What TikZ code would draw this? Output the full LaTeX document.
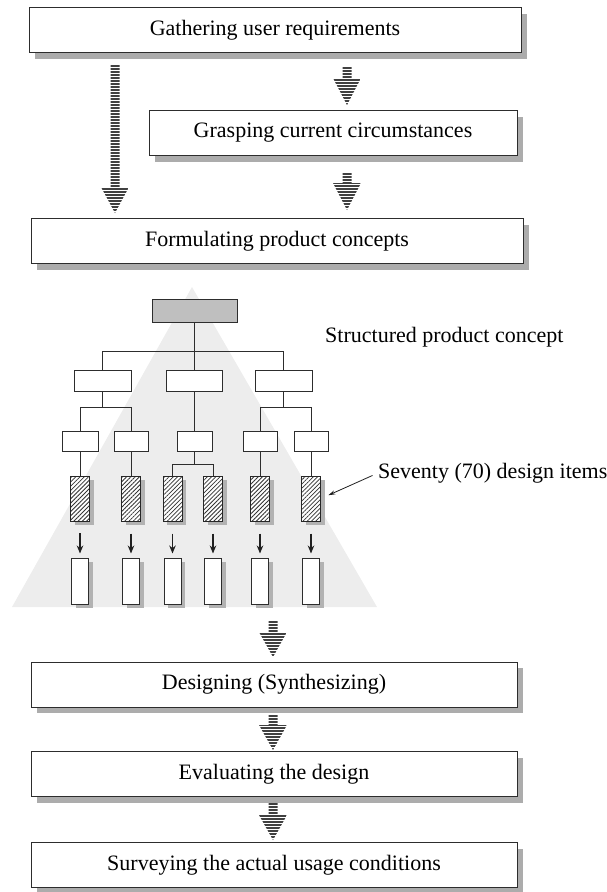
\documentclass[tikz,border=0pt]{standalone}
\usepackage{fontspec}
\setmainfont{Liberation Serif}
\usetikzlibrary{calc,shadows,patterns.meta,arrows.meta}

% striped block arrow: #2 top, #3 tip, #1 head length
\newcommand{\bararrow}[3][26]{%
  \path[bars] let \p1=(#2), \p2=(#3) in
    (\x1-4.5pt,\y1) -- (\x1+4.5pt,\y1) -- (\x1+4.5pt,\y2+#1pt) -- (\x1+14pt,\y2+#1pt)
    -- (\x1,\y2) -- (\x1-14pt,\y2+#1pt) -- (\x1-4.5pt,\y2+#1pt) -- cycle;}

\tikzset{
  stage/.style={draw=gray!35!black, line width=1pt, fill=white, minimum height=45pt,
    inner sep=0pt, general shadow={fill=gray!65, shadow xshift=6pt, shadow yshift=-6pt},
    font=\fontsize{22}{26}\selectfont},
  bars/.style={path picture={
    \foreach \k in {0.9,3.9,...,160}
      \draw[gray!50!black, line width=1.7pt]
        ([yshift=-\k pt]path picture bounding box.north west) --
        ([yshift=-\k pt]path picture bounding box.north east);}},
  tline/.style={draw=gray!35!black, line width=1pt},
  cbox/.style={draw=gray!35!black, line width=1pt, fill=white, inner sep=0pt},
  rootbox/.style={cbox, preaction={fill=gray!40},
    pattern={Dots[distance=2pt,radius=0.45pt]}, pattern color=gray!40!black},
  hbox/.style={draw=gray!30!black, line width=1pt, inner sep=0pt, minimum width=19pt,
    minimum height=45pt, general shadow={fill=gray!60, shadow xshift=4pt, shadow yshift=-4pt},
    preaction={fill=white}, pattern={Lines[angle=45,distance=3pt,line width=0.8pt]},
    pattern color=gray!40!black},
  wbox/.style={cbox, minimum width=17pt, minimum height=46pt,
    general shadow={fill=gray!60, shadow xshift=4pt, shadow yshift=-4pt}},
  down/.style={draw=gray!25!black, line width=1.3pt, -{Stealth[length=8pt,width=6.5pt]}},
  note/.style={font=\fontsize{22}{26}\selectfont, inner sep=0pt}
}

\begin{document}
\begin{tikzpicture}[x=1pt,y=-1pt]
  \useasboundingbox (0,0) rectangle (606,892);
  % top stages
  \node[stage, minimum width=492pt] (gather) at (275,30) {Gathering user requirements};
  \node[stage, minimum width=368pt] (grasp) at (333,133) {Grasping current circumstances};
  \node[stage, minimum width=492pt] (formulate) at (277,241) {Formulating product concepts};
  \coordinate (l1) at (115,65);   \coordinate (l1tip) at (115,213);
  \coordinate (g1) at (347,67);   \coordinate (g1tip) at (347,105);
  \coordinate (g2) at (347,173);  \coordinate (g2tip) at (347,210);
  \bararrow{l1}{l1tip}
  \bararrow[27]{g1}{g1tip}
  \bararrow[27]{g2}{g2tip}

  % structured concept
  \fill[gray!14] (192,287) -- (377,607) -- (12,607) -- cycle;
  \node[rootbox, minimum width=85pt, minimum height=23pt] (root) at (194.5,310.5) {};
  \foreach \n/\x/\w in {ca/102.5/57, cb/194.5/56, cc/283.5/57}
    \node[cbox, minimum width=\w pt, minimum height=21pt] (\n) at (\x,380.5) {};
  \foreach \n/\x/\w in {da/80/36, db/131/34, dc/194.5/35, dd/260/34, de/311/34}
    \node[cbox, minimum width=\w pt, minimum height=20pt] (\n) at (\x,441) {};
  \foreach \n/\x in {ha/80, hb/131, hc/172.5, hd/213, he/260, hf/311}
    \node[hbox] (\n) at (\x,498.5) {};
  \foreach \n/\x in {ba/80, bb/131, bc/172.5, bd/213, be/260, bf/311}
    \node[wbox] (\n) at (\x,581) {};
  \draw[tline] (root.south) -- ++(0,29) -| (ca.north);
  \draw[tline] (root.south) -- ++(0,29) -| (cc.north);
  \draw[tline] (root.south) -- (cb.north);
  \draw[tline] (ca.south) -- ++(0,16) -| (da.north);
  \draw[tline] (ca.south) -- ++(0,16) -| (db.north);
  \draw[tline] (cb.south) -- (dc.north);
  \draw[tline] (cc.south) -- ++(0,16) -| (dd.north);
  \draw[tline] (cc.south) -- ++(0,16) -| (de.north);
  \draw[tline] (dc.south) -- ++(0,13) -| (hc.north);
  \draw[tline] (dc.south) -- ++(0,13) -| (hd.north);
  \foreach \a/\b in {da/ha, db/hb, dd/he, de/hf}
    \draw[tline] (\a.south) -- (\b.north);
  \foreach \a/\b in {ha/ba, hb/bb, hc/bc, hd/bd, he/be, hf/bf}
    \draw[down, shorten <=12pt, shorten >=4pt] (\a.south) -- (\b.north);
  \node[note, anchor=west] (structured) at (325,337) {Structured product concept};
  \node[note, anchor=west] (items) at (378,473) {Seventy (70) design items};
  \draw[gray!25!black, line width=0.8pt, -{Stealth[length=7pt,width=4pt]}, shorten <=6pt, shorten >=8pt]
    (items.west) -- (hf.east);

  % bottom stages
  \node[stage, minimum width=486pt] (design) at (274,684.5) {Designing (Synthesizing)};
  \node[stage, minimum width=486pt] (evaluate) at (274,774) {Evaluating the design};
  \node[stage, minimum width=486pt] (survey) at (274,865) {Surveying the actual usage conditions};
  \coordinate (b1) at (273,621);  \coordinate (b1tip) at (273,657);
  \coordinate (b2) at (273,715);  \coordinate (b2tip) at (273,750);
  \coordinate (b3) at (273,803);  \coordinate (b3tip) at (273,840);
  \bararrow[25]{b1}{b1tip}
  \bararrow[25]{b2}{b2tip}
  \bararrow[25]{b3}{b3tip}
\end{tikzpicture}
\end{document}
